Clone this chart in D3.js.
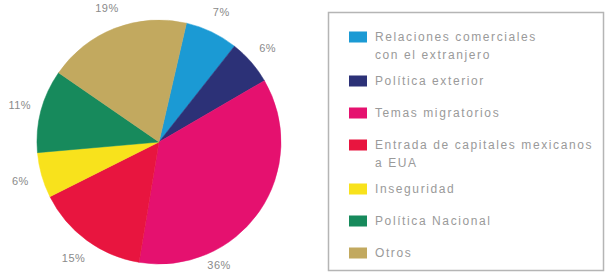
<!DOCTYPE html>
<html>
<head>
<meta charset="utf-8">
<script src="https://cdn.jsdelivr.net/npm/d3@7"></script>
<style>
  body { margin: 0; background: #fff; }
  svg { display: block; font-family: "Liberation Sans", Arial, sans-serif; }
</style>
</head>
<body>
<div id="chart"></div>
<script>
// data
const categories = [
	"Relaciones comerciales\ncon el extranjero",
	"Política exterior",
	"Temas migratorios",
	"Entrada de capitales mexicanos\na EUA",
	"Inseguridad",
	"Política Nacional",
	"Otros"
];
const values = [7, 6, 36, 15, 6, 11, 19];
const colors = ["#1b9ad4", "#2c3177", "#e5116f", "#e8153f", "#f8e21c", "#178a5c", "#c2a95f"];

const width = 605;
const height = 275;
const cx = 159, cy = 142, radius = 122;
const labelRadius = 144;

const svg = d3.select("#chart").append("svg")
	.attr("width", width)
	.attr("height", height);

const data = categories.map((c, i) => ({ name: c, value: values[i], color: colors[i] }));

const offset = 13 * Math.PI / 180;
const pie = d3.pie()
	.sort(null)
	.value(d => d.value)
	.startAngle(offset)
	.endAngle(offset + 2 * Math.PI);

const arcs = pie(data);
const arc = d3.arc().innerRadius(0).outerRadius(radius);

const g = svg.append("g")
	.attr("transform", `translate(${cx}, ${cy})`);

g.selectAll("path")
	.data(arcs)
	.enter()
	.append("path")
	.attr("d", arc)
	.attr("fill", d => d.data.color)
	.attr("stroke", d => d.data.color)
	.attr("stroke-width", 0.5);

// the big slice has its label pushed down toward the bottom
const labelAngle = d => {
	if (d.index === 2) return 154 * Math.PI / 180;
	return (d.startAngle + d.endAngle) / 2;
};
const labelR = d => d.index === 2 ? 137 : labelRadius;

g.selectAll("text.pct")
	.data(arcs)
	.enter()
	.append("text")
	.attr("class", "pct")
	.attr("x", d => Math.sin(labelAngle(d)) * labelR(d))
	.attr("y", d => -Math.cos(labelAngle(d)) * labelR(d))
	.attr("text-anchor", "middle")
	.attr("dominant-baseline", "central")
	.style("font-size", "11px")
	.style("letter-spacing", "0.5px")
	.style("fill", "#8a8a8a")
	.text(d => d.data.value + "%");

// legend
svg.append("rect")
	.attr("x", 328.5)
	.attr("y", 12.5)
	.attr("width", 275)
	.attr("height", 258)
	.attr("fill", "none")
	.attr("stroke", "#b5b5b5")
	.attr("stroke-width", 1.5);

const legend = svg.append("g");
let yPos = 37;
data.forEach(d => {
	const lines = d.name.split("\n");
	legend.append("rect")
		.attr("x", 349)
		.attr("y", yPos - 5.5)
		.attr("width", 18)
		.attr("height", 11)
		.attr("fill", d.color);
	const t = legend.append("text")
		.attr("x", 375)
		.attr("y", yPos)
		.attr("dominant-baseline", "central")
		.style("font-size", "12px")
		.style("letter-spacing", "1.6px")
		.style("fill", "#9a9a9a");
	lines.forEach((line, i) => {
		t.append("tspan")
			.attr("x", 375)
			.attr("dy", i === 0 ? 0 : 18)
			.text(line);
	});
	yPos += 32 + (lines.length - 1) * 12;
});
</script>
</body>
</html>
